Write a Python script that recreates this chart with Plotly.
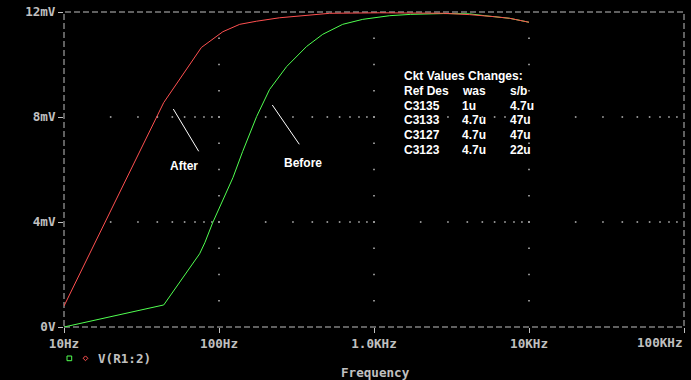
import plotly.graph_objects as go

# ---- data ----
freq_after = [10, 44, 77, 87, 106, 136, 175, 246, 368, 518, 1088, 2817, 4143, 5170, 6010, 7500, 8710, 10000]
v_after = [0.80, 8.55, 10.65, 10.89, 11.25, 11.53, 11.65, 11.78, 11.88, 11.95, 11.97, 11.95, 11.90, 11.86, 11.82, 11.76, 11.68, 11.61]

freq_before = [10, 44, 75, 81, 91, 106, 123, 142, 175, 212, 273, 368, 467, 628, 846, 1263, 1725, 2817, 4143, 5170, 7500, 10000]
v_before = [0.0, 0.84, 2.79, 3.21, 3.97, 4.85, 5.69, 6.68, 8.02, 9.05, 9.92, 10.69, 11.15, 11.53, 11.72, 11.86, 11.91, 11.94, 11.93, 11.86, 11.76, 11.61]

x_tickvals = [10, 100, 1000, 10000, 100000]
x_ticktext = ["10Hz", "100Hz", "1.0KHz", "10KHz", ""]
y_tickvals = [0, 4, 8, 12]
y_ticktext = ["0V", "4mV", "8mV", "12mV"]

table_rows = [
    ["Ckt Values Changes:", "", ""],
    ["Ref Des", "was", "s/b"],
    ["C3135", "1u", "4.7u"],
    ["C3133", "4.7u", "47u"],
    ["C3127", "4.7u", "47u"],
    ["C3123", "4.7u", "22u"],
]

# ---- styling ----
W, H = 691, 380
L, R, T, B = 64, 7, 12, 53
PW, PH = W - L - R, H - T - B
AXIS_GRAY = "#c0c0c0"
RED = "#ff5050"
GREEN = "#50ff50"
mono = dict(family="DejaVu Sans Mono", size=12.6, color=AXIS_GRAY, weight="bold")
sans = dict(family="Liberation Sans", size=12, color="white", weight="bold")


def px(x):
    return (x - L) / PW


def py(y):
    return (T + PH - y) / PH


# grid dots: along horizontal grid lines at log-minor positions, along vertical grid lines every 1 mV
gx, gy = [], []
for yv in y_tickvals[1:-1]:
    for d in x_tickvals[:-1]:
        for k in range(1, 10):
            if d * k == 10:
                continue
            gx.append(d * k)
            gy.append(yv)
for xv in x_tickvals[1:-1]:
    for mv in range(1, 12):
        gx.append(xv)
        gy.append(mv)

fig = go.Figure()
fig.add_trace(go.Scatter(x=gx, y=gy, mode="markers",
                         marker=dict(symbol="square", size=1.6, color="#b0b0b0", line=dict(width=0)),
                         hoverinfo="skip", showlegend=False))
fig.add_trace(go.Scatter(x=freq_before, y=v_before, mode="lines", line=dict(color=GREEN, width=1),
                         name="Before", showlegend=False))
fig.add_trace(go.Scatter(x=freq_after, y=v_after, mode="lines", line=dict(color=RED, width=1),
                         name="After", showlegend=False))

shapes = [
    dict(type="rect", xref="paper", yref="paper", x0=0, x1=1, y0=0, y1=1,
         line=dict(color=AXIS_GRAY, width=1, dash="6px,3px"), layer="below"),
    # pointer lines
    dict(type="line", xref="paper", yref="paper", x0=px(173.3), y0=py(109), x1=px(198.7), y1=py(151.3),
         line=dict(color="white", width=1)),
    dict(type="line", xref="paper", yref="paper", x0=px(272.3), y0=py(105), x1=px(299.3), y1=py(144.3),
         line=dict(color="white", width=1)),
    # legend symbols
    dict(type="rect", xref="paper", yref="paper", x0=px(67), x1=px(71.7), y0=py(360.7), y1=py(356),
         line=dict(color=GREEN, width=1)),
]
cx, cy, s = 85.5, 358.3, 2.4
shapes.append(dict(type="path", xref="paper", yref="paper",
                   path=f"M {px(cx - s)},{py(cy)} L {px(cx)},{py(cy - s)} L {px(cx + s)},{py(cy)} L {px(cx)},{py(cy + s)} Z",
                   line=dict(color=RED, width=1)))

annotations = [
    dict(text="100KHz", xref="paper", yref="paper", x=px(685), y=py(342.7), xanchor="right", yanchor="middle",
         showarrow=False, font=mono),
    dict(text="Frequency", xref="paper", yref="paper", x=px(375), y=py(372.3), xanchor="center", yanchor="middle",
         showarrow=False, font=mono),
    dict(text="V(R1:2)", xref="paper", yref="paper", x=px(95.7), y=py(358.3), xanchor="left", yanchor="middle",
         showarrow=False, font=mono),
    dict(text="After", xref="paper", yref="paper", x=px(184.3), y=py(166), xanchor="center", yanchor="middle",
         showarrow=False, font=sans),
    dict(text="Before", xref="paper", yref="paper", x=px(303.3), y=py(162.7), xanchor="center", yanchor="middle",
         showarrow=False, font=sans),
]
col_x = [401.7, 459.5, 507.5]
row_y = [75.7, 91, 105.7, 120.3, 135.3, 150]
for r, row in enumerate(table_rows):
    for c, txt in enumerate(row):
        if not txt:
            continue
        annotations.append(dict(text=txt, xref="paper", yref="paper", x=px(col_x[c]), y=py(row_y[r]),
                                xanchor="left", yanchor="middle", showarrow=False, font=sans))

fig.update_layout(
    width=W, height=H, margin=dict(l=L, r=R, t=T, b=B, autoexpand=False),
    paper_bgcolor="black", plot_bgcolor="black",
    hovermode=False, showlegend=False,
    shapes=shapes, annotations=annotations,
    xaxis=dict(type="log", range=[1, 5], tickvals=x_tickvals, ticktext=x_ticktext,
               ticks="outside", ticklen=5, tickcolor=AXIS_GRAY, tickwidth=1, automargin=False,
               showgrid=False, zeroline=False, showline=False, tickfont=mono, tickangle=0),
    yaxis=dict(range=[0, 12], tickvals=y_tickvals, ticktext=y_ticktext, automargin=False,
               ticks="outside", ticklen=5, tickcolor=AXIS_GRAY, tickwidth=1,
               showgrid=False, zeroline=False, showline=False, tickfont=mono),
)

fig.write_html(
    "out.html",
    config={"displayModeBar": False},
    post_script="document.body.style.margin='0';document.body.style.background='black';document.body.style.overflow='hidden';",
)
